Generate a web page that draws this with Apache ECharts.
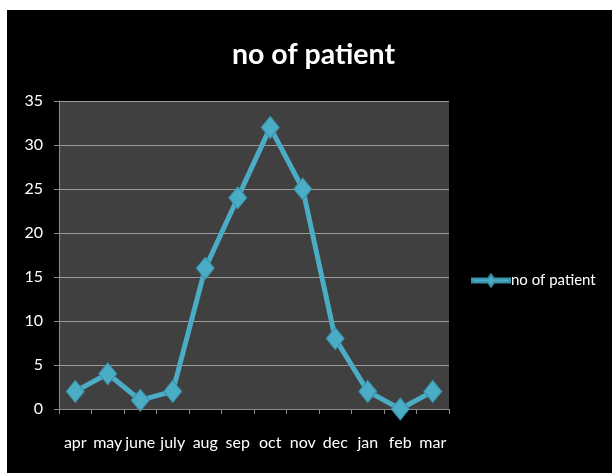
<!DOCTYPE html>
<html><head><meta charset="utf-8">
<script src="https://cdn.jsdelivr.net/npm/echarts@6/dist/echarts.min.js"></script>
<style>
html,body{margin:0;padding:0;background:#fff;width:612px;height:473px;overflow:hidden}
#c{position:absolute;left:7px;top:10px;width:605px;height:463px;background:#000}
</style></head><body>
<div id="c"></div>
<script>
const categories = ['apr','may','june','july','aug','sep','oct','nov','dec','jan','feb','mar'];
const patients = [2,4,1,2,16,24,32,25,8,2,0,2];
const seriesName = 'no of patient';
const font = 'Lato';
const chart = echarts.init(document.getElementById('c'));
chart.setOption({
  backgroundColor:'#000',
  animation:false,
  title:{text:'no of patient',left:220,top:25,
    textStyle:{color:'#fff',fontFamily:font,fontWeight:'bold',fontSize:28.5}},
  legend:{left:459,top:258,itemWidth:38,itemHeight:14,itemGap:0,
    textStyle:{color:'#fff',fontFamily:font,fontSize:15,padding:[0,0,0,-4]},
    data:[{name:seriesName,icon:'path://M0,6 L16,6 L19,2 L22,6 L38,6 L38,10 L22,10 L19,14 L16,10 L0,10 Z'}]},
  grid:{left:52,top:91,right:163,bottom:64,show:true,backgroundColor:'#404040',borderWidth:0},
  xAxis:{type:'category',data:categories,boundaryGap:true,
    axisLine:{lineStyle:{color:'#8a8a8a',width:1}},
    axisTick:{show:true,length:5,inside:false,lineStyle:{color:'#8a8a8a'}},
    axisLabel:{color:'#fff',fontFamily:font,fontSize:16,margin:26,interval:0}},
  yAxis:{type:'value',min:0,max:35,interval:5,
    axisLine:{show:true,lineStyle:{color:'#8a8a8a'}},
    axisTick:{show:true,length:5,lineStyle:{color:'#8a8a8a'}},
    splitLine:{lineStyle:{color:'#9a9a9a',width:1}},
    axisLabel:{color:'#fff',fontFamily:font,fontSize:16,margin:16}},
  series:[{name:seriesName,type:'line',data:patients,
    symbol:'diamond',symbolSize:[18,22],
    lineStyle:{color:'#4bacc6',width:5},
    itemStyle:{color:'#4bacc6',borderColor:'#3a8fa8',borderWidth:1}}]
});
</script></body></html>
